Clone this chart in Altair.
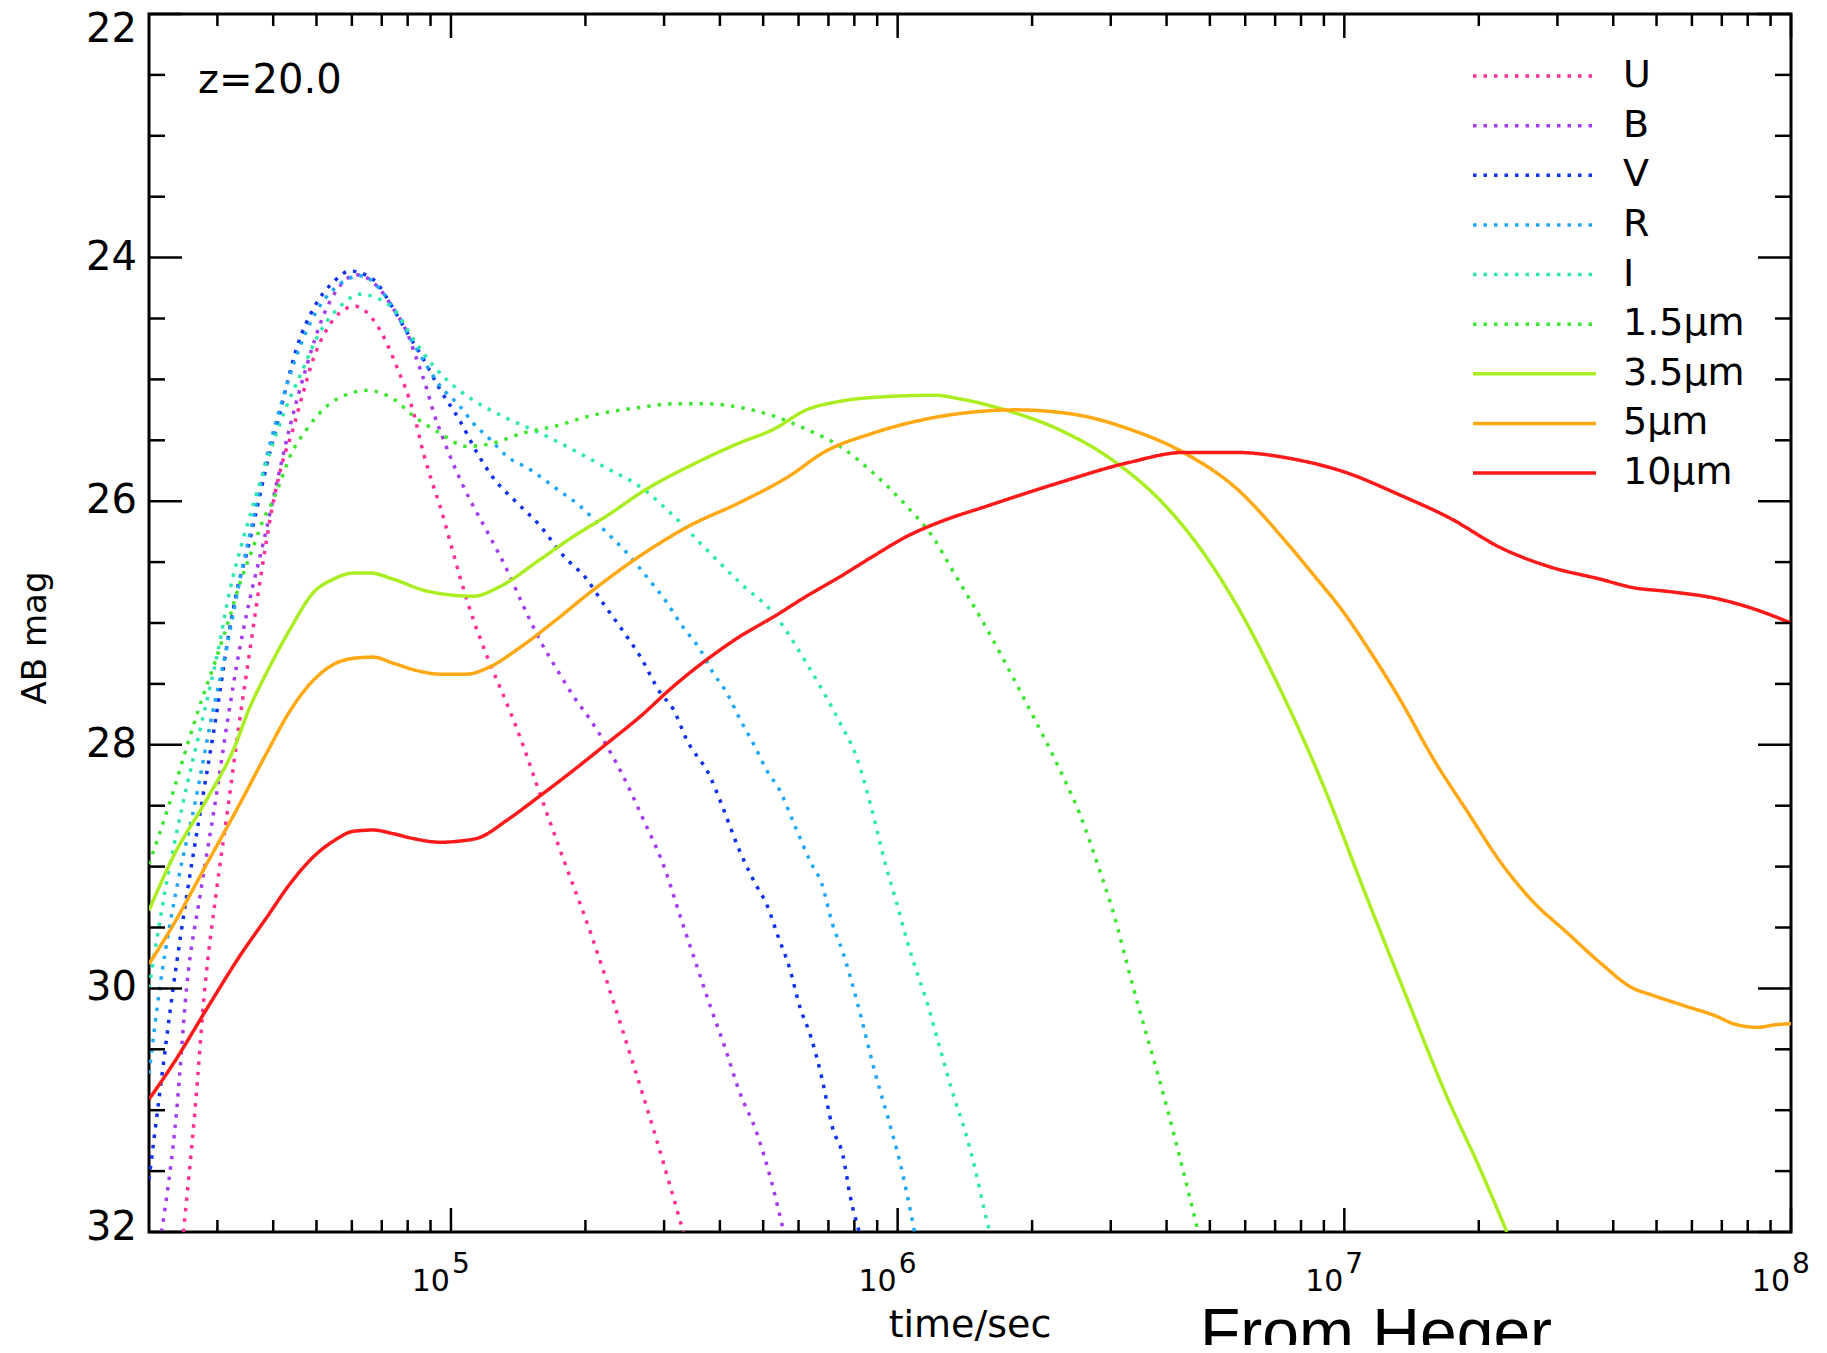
import altair as alt
import pandas as pd

# ---------------- data (log10 time [s], AB mag) ----------------
series_names = ["U", "B", "V", "R", "I", "1.5μm", "3.5μm", "5μm", "10μm"]
series_colors = ["#ff2d96", "#a23cf0", "#1030f0", "#20a8f8", "#2ee8b0", "#3ee632",
                 "#aaee22", "#ffa812", "#ff1a1a"]
series_widths = [3.5, 3.5, 3.5, 3.5, 3.5, 3.5, 3, 3, 3.5]

U_logt = [4.401, 4.427, 4.449, 4.475, 4.502, 4.525, 4.55, 4.575, 4.60, 4.625, 4.643, 4.669,
          4.692, 4.722, 4.752, 4.785, 4.826, 4.856, 4.878, 4.916, 4.938, 4.961, 4.9755, 4.998,
          5.020, 5.050, 5.087, 5.125, 5.162, 5.199, 5.244, 5.316, 5.389, 5.465, 5.52]
U_mag = [32.0, 31.0, 30.0, 29.2, 28.48, 27.85, 27.22, 26.6, 26.05, 25.65, 25.45, 25.11,
         24.83, 24.59, 24.45, 24.40, 24.51, 24.70, 24.89, 25.27, 25.60, 25.88, 26.04, 26.33,
         26.62, 26.97, 27.33, 27.66, 28.01, 28.40, 28.86, 29.58, 30.40, 31.30, 32.0]

B_logt = [4.352, 4.386, 4.408, 4.44, 4.472, 4.50, 4.525, 4.55, 4.58, 4.61, 4.64, 4.677, 4.714,
          4.752, 4.789, 4.841, 4.871, 4.901, 4.923, 4.946, 4.961, 4.983, 4.998, 5.028, 5.050,
          5.087, 5.125, 5.162, 5.199, 5.237, 5.274, 5.311, 5.349, 5.386, 5.429, 5.477, 5.517,
          5.549, 5.581, 5.613, 5.645, 5.685, 5.717, 5.745]
B_mag = [32.0, 31.0, 30.0, 29.2, 28.48, 27.8, 27.25, 26.8, 26.34, 25.85, 25.38, 24.89, 24.48,
         24.23, 24.14, 24.26, 24.42, 24.61, 24.83, 25.08, 25.27, 25.49, 25.63, 25.88, 26.04,
         26.29, 26.56, 26.86, 27.14, 27.38, 27.60, 27.79, 28.01, 28.26, 28.6, 29.0, 29.45,
         29.8, 30.15, 30.48, 30.84, 31.19, 31.58, 32.0]

V_logt = [4.324, 4.35, 4.378, 4.41, 4.442, 4.475, 4.50, 4.52, 4.543, 4.565, 4.587, 4.610,
          4.632, 4.654, 4.692, 4.737, 4.774, 4.826, 4.871, 4.901, 4.938, 4.975, 5.020, 5.058,
          5.095, 5.147, 5.199, 5.252, 5.304, 5.341, 5.386, 5.423, 5.468, 5.498, 5.528, 5.580,
          5.605, 5.645, 5.677, 5.709, 5.733, 5.757, 5.781, 5.806, 5.830, 5.854, 5.878, 5.894,
          5.914]
V_mag = [31.57, 30.8, 30.0, 29.2, 28.48, 27.75, 27.15, 26.75, 26.42, 26.07, 25.71, 25.38,
         25.05, 24.75, 24.42, 24.20, 24.11, 24.18, 24.42, 24.61, 24.83, 25.08, 25.34, 25.60,
         25.81, 26.01, 26.20, 26.45, 26.64, 26.84, 27.07, 27.27, 27.57, 27.71, 27.96, 28.26,
         28.48, 28.86, 29.11, 29.33, 29.58, 29.82, 30.15, 30.40, 30.73, 31.14, 31.38, 31.71,
         32.0]

R_logt = [4.324, 4.348, 4.39, 4.427, 4.46, 4.498, 4.53, 4.56, 4.59, 4.62, 4.65, 4.69, 4.74,
          4.80, 4.85, 4.901, 4.946, 4.975, 5.020, 5.050, 5.087, 5.125, 5.177, 5.237, 5.289,
          5.341, 5.393, 5.438, 5.483, 5.513, 5.558, 5.587, 5.617, 5.647, 5.677, 5.707, 5.737,
          5.767, 5.806, 5.830, 5.854, 5.878, 5.910, 5.950, 5.982, 6.006, 6.038]
R_mag = [30.7, 30.0, 29.1, 28.48, 27.85, 27.2, 26.6, 26.1, 25.6, 25.2, 24.85, 24.5, 24.25,
         24.15, 24.30, 24.61, 24.89, 25.05, 25.22, 25.36, 25.49, 25.63, 25.74, 25.90, 26.04,
         26.23, 26.42, 26.62, 26.83, 27.00, 27.22, 27.41, 27.57, 27.79, 27.99, 28.21, 28.38,
         28.64, 28.97, 29.14, 29.47, 29.71, 30.12, 30.70, 31.11, 31.44, 32.0]

I_logt = [4.324, 4.36, 4.40, 4.44, 4.479, 4.505, 4.528, 4.550, 4.572, 4.602, 4.632, 4.662,
          4.707, 4.752, 4.796, 4.871, 4.916, 4.961, 5.005, 5.050, 5.125, 5.199, 5.274, 5.349,
          5.423, 5.498, 5.573, 5.647, 5.722, 5.796, 5.871, 5.908, 5.94, 5.974, 5.998, 6.022,
          6.046, 6.062, 6.094, 6.126, 6.150, 6.174, 6.194, 6.206]
I_mag = [30.0, 29.2, 28.48, 27.85, 27.22, 26.73, 26.40, 26.12, 25.85, 25.52, 25.22, 24.97,
         24.61, 24.40, 24.30, 24.42, 24.67, 24.89, 25.05, 25.17, 25.32, 25.44, 25.58, 25.73,
         25.88, 26.12, 26.40, 26.67, 26.92, 27.33, 27.82, 28.1, 28.5, 29.0, 29.3, 29.62,
         29.9, 30.07, 30.48, 30.89, 31.16, 31.49, 31.82, 32.0]

M15_logt = [4.324, 4.37, 4.41, 4.442, 4.468, 4.498, 4.528, 4.558, 4.580, 4.602, 4.617, 4.640,
            4.677, 4.722, 4.77, 4.811, 4.871, 4.916, 4.975, 5.035, 5.087, 5.162, 5.237, 5.311,
            5.423, 5.498, 5.573, 5.647, 5.722, 5.796, 5.871, 5.946, 6.020, 6.080, 6.120, 6.200,
            6.280, 6.374, 6.407, 6.453, 6.479, 6.528, 6.603, 6.673]
M15_mag = [28.98, 28.48, 28.0, 27.63, 27.36, 27.03, 26.67, 26.37, 26.15, 25.99, 25.85, 25.63,
           25.41, 25.22, 25.12, 25.09, 25.16, 25.30, 25.44, 25.55, 25.53, 25.44, 25.38, 25.30,
           25.23, 25.20, 25.20, 25.23, 25.30, 25.41, 25.55, 25.77, 26.04, 26.30, 26.55, 27.05,
           27.60, 28.29, 28.56, 29.04, 29.33, 30.0, 30.98, 32.0]

M35_logt = [4.324, 4.378, 4.453, 4.513, 4.550, 4.587, 4.640, 4.692, 4.737, 4.782, 4.819, 4.871,
            4.938, 5.0, 5.05, 5.11, 5.199, 5.274, 5.349, 5.438, 5.535, 5.647, 5.722, 5.796,
            5.871, 5.983, 6.080, 6.140, 6.240, 6.360, 6.480, 6.600, 6.680, 6.760, 6.840,
            6.948, 7.05, 7.125, 7.237, 7.30, 7.364]
M35_mag = [29.36, 28.92, 28.45, 28.04, 27.69, 27.41, 27.05, 26.75, 26.64, 26.59, 26.59, 26.64,
           26.73, 26.77, 26.78, 26.70, 26.48, 26.29, 26.12, 25.90, 25.71, 25.52, 25.41, 25.25,
           25.18, 25.14, 25.13, 25.16, 25.25, 25.41, 25.66, 26.04, 26.40, 26.86, 27.42,
           28.29, 29.25, 29.94, 30.95, 31.45, 32.0]

M5_logt = [4.324, 4.378, 4.453, 4.528, 4.587, 4.640, 4.692, 4.737, 4.782, 4.826, 4.871, 4.923,
           4.976, 5.035, 5.087, 5.155, 5.237, 5.311, 5.423, 5.535, 5.647, 5.759, 5.834, 5.946,
           6.058, 6.140, 6.264, 6.400, 6.520, 6.640, 6.760, 6.864, 6.93, 7.0, 7.05, 7.125, 7.20,
           7.274, 7.349, 7.423, 7.498, 7.573, 7.647, 7.685, 7.759, 7.834, 7.871, 7.927, 7.961,
           8.0]
M5_mag = [29.80, 29.48, 28.98, 28.48, 28.07, 27.72, 27.47, 27.34, 27.29, 27.28, 27.33, 27.39,
          27.42, 27.42, 27.36, 27.20, 26.97, 26.75, 26.45, 26.20, 26.01, 25.79, 25.60, 25.44,
          25.33, 25.28, 25.25, 25.29, 25.41, 25.60, 25.90, 26.31, 26.6, 26.92, 27.19, 27.63,
          28.12, 28.54, 28.96, 29.29, 29.54, 29.79, 30.0, 30.05, 30.14, 30.23, 30.29, 30.32,
          30.30, 30.29]

M10_logt = [4.324, 4.378, 4.453, 4.528, 4.587, 4.640, 4.692, 4.737, 4.782, 4.826, 4.871, 4.916,
            4.976, 5.020, 5.065, 5.125, 5.199, 5.274, 5.349, 5.423, 5.498, 5.573, 5.647, 5.722,
            5.796, 5.871, 5.946, 6.020, 6.095, 6.200, 6.360, 6.520, 6.640, 6.760, 6.880, 7.0,
            7.125, 7.237, 7.349, 7.461, 7.573, 7.647, 7.722, 7.834, 7.909, 8.0]
M10_mag = [30.91, 30.62, 30.17, 29.73, 29.42, 29.14, 28.92, 28.79, 28.71, 28.70, 28.73, 28.77,
           28.80, 28.79, 28.76, 28.62, 28.42, 28.21, 27.99, 27.77, 27.52, 27.30, 27.11, 26.95,
           26.78, 26.62, 26.45, 26.29, 26.17, 26.04, 25.85, 25.68, 25.60, 25.60, 25.65, 25.76,
           25.95, 26.14, 26.38, 26.54, 26.64, 26.71, 26.74, 26.80, 26.875, 27.0]

all_logt = [U_logt, B_logt, V_logt, R_logt, I_logt, M15_logt, M35_logt, M5_logt, M10_logt]
all_mag = [U_mag, B_mag, V_mag, R_mag, I_mag, M15_mag, M35_mag, M5_mag, M10_mag]

# axis tick values and labels
y_major_inner = [24, 26, 28, 30]
y_top, y_bottom = 22, 32
y_major = [22, 24, 26, 28, 30, 32]
y_minor = [22.5, 23, 23.5, 24.5, 25, 25.5, 26.5, 27, 27.5, 28.5, 29, 29.5, 30.5, 31, 31.5]
x_major = [1e5, 1e6, 1e7, 1e8]
x_exponents = ["5", "6", "7", "8"]
x_minor = [3e4, 4e4, 5e4, 6e4, 7e4, 8e4, 9e4,
           2e5, 3e5, 4e5, 5e5, 6e5, 7e5, 8e5, 9e5,
           2e6, 3e6, 4e6, 5e6, 6e6, 7e6, 8e6, 9e6,
           2e7, 3e7, 4e7, 5e7, 6e7, 7e7, 8e7, 9e7]

# ---------------- build tables ----------------
rows = []
for name, lt, mg in zip(series_names, all_logt, all_mag):
    for a, b in zip(lt, mg):
        rows.append({"series": name, "t": 10 ** a, "mag": b})
df = pd.DataFrame(rows)
leg_df = pd.DataFrame({"series": series_names, "row": list(range(len(series_names)))})

W, H = 1642, 1218
FONT = "DejaVu Sans"

xs = alt.Scale(type="log", domain=[21086, 1e8])
ys = alt.Scale(domain=[22, 32], reverse=True)
dashes = [[3.5, 7]] * 6 + [[1, 0]] * 3

color_enc = alt.Color("series:N", scale=alt.Scale(domain=series_names, range=series_colors),
                      legend=None)
dash_enc = alt.StrokeDash("series:N", scale=alt.Scale(domain=series_names, range=dashes),
                          legend=None)
width_enc = alt.StrokeWidth("series:N", scale=alt.Scale(domain=series_names, range=series_widths),
                            legend=None)

lines = alt.Chart(df).mark_line(clip=True, interpolate="monotone", strokeCap="butt").encode(
    x=alt.X("t:Q", scale=xs, axis=None),
    y=alt.Y("mag:Q", scale=ys, axis=None),
    color=color_enc, strokeDash=dash_enc, strokeWidth=width_enc,
    order=alt.Order("t:Q"),
)

# legend drawn inside the plot, top right
leg_y = alt.Y("row:Q", scale=alt.Scale(domain=[0, 8], range=[62, 459]), axis=None)
leg_lines = alt.Chart(leg_df).mark_rule(strokeCap="butt").encode(
    y=leg_y, x=alt.value(1324), x2=alt.value(1447),
    color=color_enc, strokeDash=dash_enc, strokeWidth=width_enc)
leg_text = alt.Chart(leg_df).mark_text(align="left", baseline="middle", fontSize=38,
                                       font=FONT, color="black").encode(
    y=leg_y, x=alt.value(1474), text="series:N")

ymaj_df = pd.DataFrame({"v": y_major})
ymin_df = pd.DataFrame({"v": y_minor})
xmaj_df = pd.DataFrame({"v": x_major, "e": x_exponents})
xmin_df = pd.DataFrame({"v": x_minor})

def yticks(d, x1, x2):
    return alt.Chart(d).mark_rule(color="black", strokeWidth=2.5).encode(
        y=alt.Y("v:Q", scale=ys, axis=None), x=alt.value(x1), x2=alt.value(x2))

def xticks(d, y1, y2):
    return alt.Chart(d).mark_rule(color="black", strokeWidth=2.5).encode(
        x=alt.X("v:Q", scale=xs, axis=None), y=alt.value(y1), y2=alt.value(y2))

ticks = [
    yticks(ymaj_df, 0, 33), yticks(ymin_df, 0, 16),
    yticks(ymaj_df, W, W - 33), yticks(ymin_df, W, W - 16),
    xticks(xmaj_df, H, H - 24), xticks(xmin_df, H, H - 12),
    xticks(xmaj_df, 0, 24), xticks(xmin_df, 0, 12),
]

def ylab(values, dy):
    return alt.Chart(pd.DataFrame({"v": values})).mark_text(
        align="right", baseline="middle", fontSize=40, font=FONT, color="black", dy=dy
    ).encode(y=alt.Y("v:Q", scale=ys, axis=None), x=alt.value(-12),
             text=alt.Text("v:Q", format="d"))

ylabels = [ylab(y_major_inner, 0), ylab([y_top], 16), ylab([y_bottom], -4)]

xlab10 = alt.Chart(xmaj_df).mark_text(align="right", baseline="alphabetic", fontSize=30,
                                      font=FONT, color="black", dx=-1).encode(
    x=alt.X("v:Q", scale=xs, axis=None), y=alt.value(H + 59), text=alt.value("10"))
xlabexp = alt.Chart(xmaj_df).mark_text(align="left", baseline="alphabetic", fontSize=28,
                                       font=FONT, color="black", dx=1).encode(
    x=alt.X("v:Q", scale=xs, axis=None), y=alt.value(H + 41), text="e:N")

def note(txt, x, y, size, font=FONT, angle=0, align="left"):
    return alt.Chart(pd.DataFrame({"s": [txt]})).mark_text(
        align=align, baseline="alphabetic", fontSize=size, font=font, color="black",
        angle=angle).encode(x=alt.value(x), y=alt.value(y), text="s:N")

texts = [
    note("time/sec", W / 2, H + 105, 38, align="center"),
    note("AB mag", -103, 624, 34, angle=270, align="center"),
    note("z=20.0", 49, 79, 40),
    note("From Heger", 1051, 1341, 66, font="Liberation Sans"),
]

chart = alt.layer(lines, leg_lines, leg_text, *ticks, *ylabels, xlab10, xlabexp,
                  *texts).resolve_scale(y="independent").properties(
    width=W, height=H,
    autosize=alt.AutoSizeParams(type="none"),
    padding={"left": 141, "top": 6, "right": 28, "bottom": 113},
    background="white",
).configure_view(stroke="black", strokeWidth=3)

chart.save("out.html", embed_options={"renderer": "svg", "actions": False})
